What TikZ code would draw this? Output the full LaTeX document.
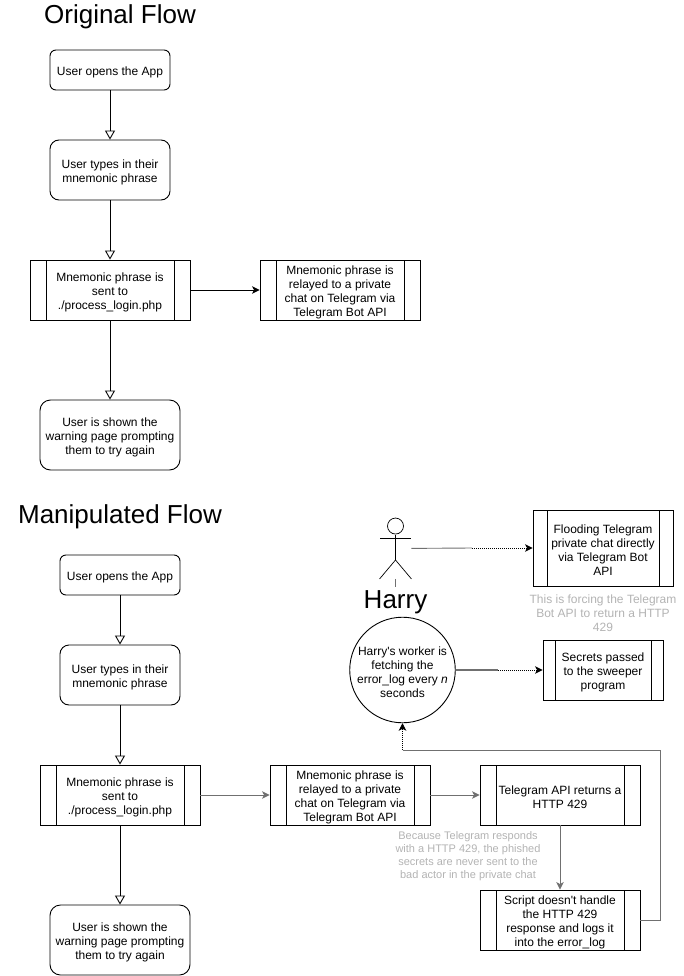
\documentclass[tikz,border=0pt]{standalone}
\usepackage{fontspec}
\setmainfont{Liberation Sans}
\usetikzlibrary{arrows.meta, positioning, calc, shapes}

\newcommand{\toprow}{\rule{0pt}{12.5pt}}

\tikzset{
    bodytext/.style={font=\fontsize{12}{14}\selectfont, align=center, inner sep=0pt},
    notetext/.style={font=\fontsize{11}{13}\selectfont, align=center, inner sep=0pt, text=notegray},
    headtext/.style={font=\fontsize{26}{30}\selectfont, inner sep=0pt},
    stepbox/.style 2 args={draw, bodytext, rounded corners={0.15*#2}, minimum width=#1, minimum height=#2},
    procbox/.style 2 args={draw, bodytext, minimum width=#1, minimum height=#2, path picture={
        \draw ([xshift={0.1*#1}]path picture bounding box.north west) -- ([xshift={0.1*#1}]path picture bounding box.south west);
        \draw ([xshift={-0.1*#1}]path picture bounding box.north east) -- ([xshift={-0.1*#1}]path picture bounding box.south east);
    }},
    openflow/.style={-{Triangle[open, length=9pt, width=10pt]}},
    solidflow/.style={-{Stealth[length=7.5pt, width=7.5pt, inset=2pt]}},
    greyflow/.style={draw=linegray},
    dotflow/.style={dash pattern=on 1pt off 1pt, solidflow},
}
\definecolor{notegray}{HTML}{B3B3B3}
\definecolor{linegray}{HTML}{707070}

\begin{document}
\begin{tikzpicture}[x=1pt, y=-1pt, line width=0.9pt]
    \useasboundingbox (0, 0) rectangle (683, 976);

    % original flow
    \node[headtext] (title1) at (120, 17) {Original Flow};
    \node[stepbox={120}{40}] (open1) at (110, 70) {\toprow User opens the App};
    \node[stepbox={120}{60}] (type1) at (110, 170) {\toprow User types in their\\mnemonic phrase};
    \node[procbox={160}{60}] (sent1) at (110, 290) {\toprow Mnemonic phrase is\\sent to\\./process\_login.php};
    \node[procbox={160}{60}] (relay1) at (340, 290) {\toprow Mnemonic phrase is\\relayed to a private\\chat on Telegram via\\Telegram Bot API};
    \node[stepbox={140}{70}] (warn1) at (110, 435) {\toprow User is shown the\\warning page prompting\\them to try again};

    \draw[openflow] (open1) -- (type1);
    \draw[openflow] (type1) -- (sent1);
    \draw[openflow] (sent1) -- (warn1);
    \draw[solidflow] (sent1) -- (relay1);

    % manipulated flow
    \node[headtext] (title2) at (120, 517) {Manipulated Flow};
    \node[stepbox={120}{40}] (open2) at (120, 575) {\toprow User opens the App};
    \node[stepbox={120}{60}] (type2) at (120, 675) {\toprow User types in their\\mnemonic phrase};
    \node[procbox={160}{60}] (sent2) at (120, 795) {\toprow Mnemonic phrase is\\sent to\\./process\_login.php};
    \node[procbox={160}{60}] (relay2) at (350, 795) {\toprow Mnemonic phrase is\\relayed to a private\\chat on Telegram via\\Telegram Bot API};
    \node[procbox={160}{60}] (api) at (560, 795) {\toprow Telegram API returns a\\HTTP 429};
    \node[procbox={160}{60}] (script) at (560, 920) {\toprow Script doesn\textquotesingle t handle\\the HTTP 429\\response and logs it\\into the error\_log};
    \node[stepbox={140}{70}] (warn2) at (120, 940) {\toprow User is shown the\\warning page prompting\\them to try again};
    \node[notetext] (note2) at (468, 856.5) {Because Telegram responds\\with a HTTP 429, the phished\\secrets are never sent to the\\bad actor in the private chat};

    \draw[openflow] (open2) -- (type2);
    \draw[openflow] (type2) -- (sent2);
    \draw[openflow] (sent2) -- (warn2);
    \draw[solidflow, greyflow] (sent2) -- (relay2);
    \draw[solidflow, greyflow] (relay2) -- (api);
    \draw[solidflow, greyflow] (api) -- (script);

    % harry
    \node[minimum width=31, minimum height=60, inner sep=0pt] (actor) at (395.5, 548.5) {};
    \node[headtext] (harry) at (395.5, 602) {Harry};
    \node[draw, circle, bodytext, minimum size=105] (worker) at (402.5, 670) {\toprow Harry\textquotesingle s worker is\\fetching the\\error\_log every \textit{n}\\seconds};
    \node[procbox={140}{76}] (flood) at (603, 548) {\toprow Flooding Telegram\\private chat directly\\via Telegram Bot\\API};
    \node[procbox={120}{60}] (sweep) at (603, 670) {\toprow Secrets passed\\to the sweeper\\program};
    \node[notetext, font=\fontsize{12}{14}\selectfont] (note1) at (603, 613) {This is forcing the Telegram\\Bot API to return a HTTP\\429};

    \draw[line width=0.7pt] (actor.north) ++(0, 8) circle (8);
    \draw[line width=0.7pt] (395.5, 535) -- (395.5, 560) -- (actor.south west);
    \draw[line width=0.7pt] (395.5, 560) -- (actor.south east);
    \draw[line width=0.7pt] (380, 538) -- (411, 538);

    \coordinate (bend1) at (472, 548);
    \coordinate (bend2) at (498, 670);
    \coordinate (bend3) at (660, 920);
    \coordinate (bend4) at (660, 750);
    \coordinate (bend5) at (402.5, 750);

    \draw[greyflow, shorten >=3pt] (actor.south) -- (harry);
    \draw[greyflow] (actor) -- (bend1);
    \draw[dotflow] (bend1) -- (flood);
    \draw[greyflow, line width=1.5pt] (worker) -- (bend2);
    \draw[dotflow] (bend2) -- (sweep);
    \draw[greyflow] (script) -- (bend3) -- (bend4) -- (bend5);
    \draw[dotflow] (bend5) -- (worker);
\end{tikzpicture}
\end{document}
